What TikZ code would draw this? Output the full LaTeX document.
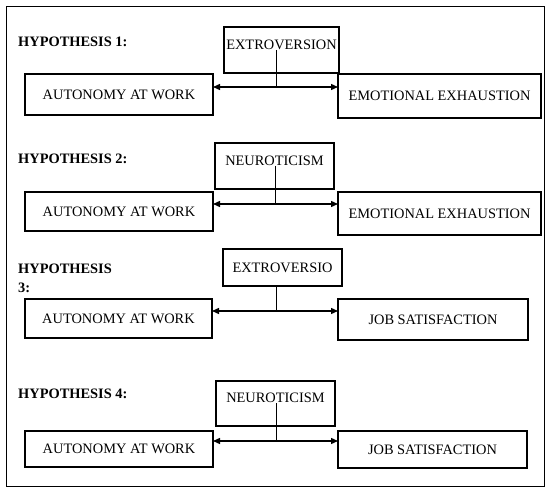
\documentclass[tikz,border=0pt]{standalone}
\usepackage{fontspec}
\setmainfont{Liberation Serif}
\usetikzlibrary{arrows.meta, positioning}
\tikzset{
	hyplabel/.style={anchor=base west, inner sep=0pt, align=left, font=\fontsize{14.4}{19}\selectfont\bfseries},
	varbox/.style={rectangle, draw=black, line width=1.2pt, anchor=north west, inner sep=0pt, outer sep=0pt, text centered, font=\fontsize{14.4}{17}\selectfont},
	modbox/.style={varbox, text depth=11pt},
	linkarrow/.style={{Triangle[length=7pt,width=6pt]}-{Triangle[length=7pt,width=6pt]}, line width=1.4pt},
	stem/.style={line width=0.8pt},
}
\begin{document}
\begin{tikzpicture}[x=1pt, y=-1pt]
	\useasboundingbox (0,0) rectangle (550,492);
	\draw[line width=0.8pt] (6,6) rectangle (544,486);

	% hypothesis 1
	\node[hyplabel] (lab1) at (18,47) {HYPOTHESIS 1:};
	\node[modbox, minimum width=115pt, minimum height=46pt] (mod1) at (224,27) {EXTROVERSION};
	\node[varbox, minimum width=188pt, minimum height=41pt] (aut1) at (25,74) {AUTONOMY AT WORK};
	\node[varbox, minimum width=203pt, minimum height=44pt] (out1) at (338,74) {EMOTIONAL EXHAUSTION};
	\coordinate (j1) at (276,87);

	% hypothesis 2
	\node[hyplabel] (lab2) at (18,164) {HYPOTHESIS 2:};
	\node[modbox, minimum width=119pt, minimum height=46pt] (mod2) at (215,143) {NEUROTICISM};
	\node[varbox, minimum width=188pt, minimum height=39pt] (aut2) at (25,192) {AUTONOMY AT WORK};
	\node[varbox, minimum width=203pt, minimum height=43pt] (out2) at (338,192) {EMOTIONAL EXHAUSTION};
	\coordinate (j2) at (275,204);

	% hypothesis 3
	\node[hyplabel, anchor=north west] (lab3) at (18,264) {HYPOTHESIS\\3:};
	\node[varbox, minimum width=119pt, minimum height=37pt] (mod3) at (223,249) {EXTROVERSIO};
	\node[varbox, minimum width=187pt, minimum height=39pt] (aut3) at (25,299) {AUTONOMY AT WORK};
	\node[varbox, minimum width=190pt, minimum height=41pt] (out3) at (338,299) {JOB SATISFACTION};
	\coordinate (j3) at (276,311);

	% hypothesis 4
	\node[hyplabel] (lab4) at (18,399) {HYPOTHESIS 4:};
	\node[modbox, minimum width=119pt, minimum height=45pt] (mod4) at (216,381) {NEUROTICISM};
	\node[varbox, minimum width=188pt, minimum height=36pt] (aut4) at (25,431) {AUTONOMY AT WORK};
	\node[varbox, minimum width=189pt, minimum height=37pt] (out4) at (338,431) {JOB SATISFACTION};
	\coordinate (j4) at (276,441);

	% moderated links
	\foreach \i in {1,2,4} {
		\draw[linkarrow] (aut\i.east |- j\i) -- (out\i.west |- j\i);
		\draw[stem] (j\i |- mod\i.center) -- (j\i);
	}
	\draw[linkarrow] (aut3.east |- j3) -- (out3.west |- j3);
	\draw[stem] (mod3.south -| j3) -- (j3);
\end{tikzpicture}
\end{document}
